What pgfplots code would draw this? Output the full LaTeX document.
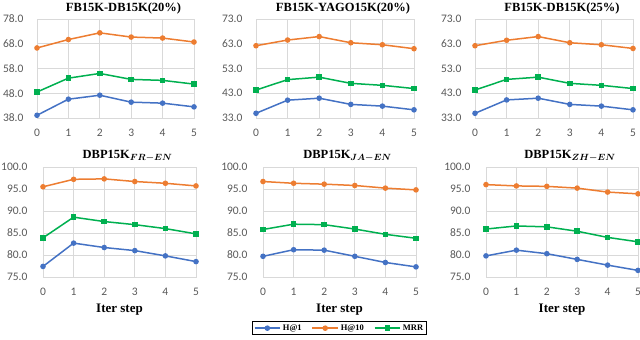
\documentclass[border=0pt]{standalone}
\usepackage{fontspec}
\setmainfont{Liberation Serif}
\newfontfamily\carlito{Carlito}
\usepackage{amsmath}
\usepackage{bm}
\usepackage{pgfplots}
\pgfplotsset{compat=1.18}

\definecolor{hone}{HTML}{4472C4}
\definecolor{hten}{HTML}{ED7D31}
\definecolor{mrr}{HTML}{00B050}
\definecolor{gridgray}{HTML}{D9D9D9}
\definecolor{labgray}{HTML}{595959}

\pgfplotsset{
  panel/.style={
    scale only axis, anchor=south west,
    xmin=0, xmax=5, xtick={0,...,5},
    grid=major, major grid style={draw=gridgray, line width=0.9pt},
    axis line style={draw=gridgray, line width=0.9pt},
    major tick length=0pt,
    tick label style={font=\fontsize{11.5}{12}\selectfont\carlito, text=labgray},
    /pgf/number format/assume math mode=true,
    yticklabel style={/pgf/number format/fixed, /pgf/number format/fixed zerofill, /pgf/number format/precision=1},
    xticklabel style={yshift=-8pt},
    title style={font=\fontsize{12.5}{14}\selectfont\bfseries, yshift=-4.5pt, xshift=8pt},
    xlabel style={font=\fontsize{13}{14}\selectfont\bfseries, at={(axis description cs:0.5,0)}, anchor=center, yshift=-33pt},
  },
  toprow/.style={panel, height=99pt, yticklabel style={xshift=-10pt}},
  botrow/.style={panel, height=110pt, ymin=75, ymax=100, ytick={75,80,...,100}, yticklabel style={xshift=-12pt}, xlabel={Iter step}},
  h1/.style={hone, line width=1.5pt, mark=*, mark size=2pt},
  h10/.style={hten, line width=1.5pt, mark=*, mark size=2pt},
  mr/.style={mrr, line width=1.5pt, mark=square*, mark size=2pt},
}

\begin{document}
\begin{tikzpicture}
\useasboundingbox (0,0) rectangle (640pt,340pt);

% top row
\begin{axis}[toprow, at={(37pt,222pt)}, width=157pt, ymin=38, ymax=78, ytick={38,48,...,78},
  title={FB15K-DB15K(20\%)}]
\addplot[h1] coordinates {(0,39.1) (1,45.6) (2,47.2) (3,44.4) (4,44.0) (5,42.5)};
\addplot[h10] coordinates {(0,66.3) (1,69.7) (2,72.4) (3,70.7) (4,70.3) (5,68.7)};
\addplot[mr] coordinates {(0,48.5) (1,54.1) (2,56.0) (3,53.6) (4,53.2) (5,51.7)};
\end{axis}

\begin{axis}[toprow, at={(256pt,222pt)}, width=158pt, ymin=33, ymax=73, ytick={33,43,...,73},
  title={FB15K-YAGO15K(20\%)}]
\addplot[h1] coordinates {(0,34.9) (1,40.2) (2,41.0) (3,38.5) (4,37.8) (5,36.3)};
\addplot[h10] coordinates {(0,62.2) (1,64.5) (2,65.9) (3,63.4) (4,62.6) (5,61.0)};
\addplot[mr] coordinates {(0,44.3) (1,48.5) (2,49.5) (3,47.0) (4,46.2) (5,44.9)};
\end{axis}

\begin{axis}[toprow, at={(475pt,222pt)}, width=158pt, ymin=33, ymax=73, ytick={33,43,...,73},
  title={FB15K-DB15K(25\%)}]
\addplot[h1] coordinates {(0,34.9) (1,40.3) (2,41.0) (3,38.5) (4,37.8) (5,36.3)};
\addplot[h10] coordinates {(0,62.2) (1,64.4) (2,65.9) (3,63.4) (4,62.6) (5,61.1)};
\addplot[mr] coordinates {(0,44.3) (1,48.6) (2,49.5) (3,47.0) (4,46.2) (5,44.9)};
\end{axis}

% bottom row
\begin{axis}[botrow, at={(43pt,63pt)}, width=153pt,
  title={DBP15K$_{\boldsymbol{FR-EN}}$}]
\addplot[h1] coordinates {(0,77.4) (1,82.7) (2,81.7) (3,81.0) (4,79.8) (5,78.5)};
\addplot[h10] coordinates {(0,95.5) (1,97.2) (2,97.3) (3,96.7) (4,96.3) (5,95.7)};
\addplot[mr] coordinates {(0,83.9) (1,88.6) (2,87.6) (3,86.9) (4,86.0) (5,84.8)};
\end{axis}

\begin{axis}[botrow, at={(263pt,63pt)}, width=153pt,
  title={DBP15K$_{\boldsymbol{JA-EN}}$},
  legend columns=3,
  legend style={at={(axis description cs:0.5,0)}, anchor=north, yshift=-44pt,
    draw=black, line width=1.2pt, font=\fontsize{8.5}{9}\selectfont\bfseries,
    inner sep=1pt, /tikz/every even column/.append style={column sep=8pt}},
  legend image code/.code={\draw[mark repeat=2, mark phase=2] plot coordinates {(0cm,0cm) (0.45cm,0cm) (0.9cm,0cm)};}]
\addplot[h1] coordinates {(0,79.7) (1,81.2) (2,81.1) (3,79.7) (4,78.3) (5,77.3)};
\addplot[h10] coordinates {(0,96.7) (1,96.3) (2,96.1) (3,95.8) (4,95.2) (5,94.8)};
\addplot[mr] coordinates {(0,85.8) (1,87.0) (2,86.9) (3,85.9) (4,84.7) (5,83.8)};
\legend{H@1, H@10, MRR}
\end{axis}

\begin{axis}[botrow, at={(486pt,63pt)}, width=152pt,
  title={DBP15K$_{\boldsymbol{ZH-EN}}$}]
\addplot[h1] coordinates {(0,79.8) (1,81.1) (2,80.3) (3,79.0) (4,77.7) (5,76.5)};
\addplot[h10] coordinates {(0,96.0) (1,95.7) (2,95.6) (3,95.2) (4,94.3) (5,93.9)};
\addplot[mr] coordinates {(0,85.9) (1,86.6) (2,86.4) (3,85.4) (4,84.0) (5,83.0)};
\end{axis}
\end{tikzpicture}
\end{document}
